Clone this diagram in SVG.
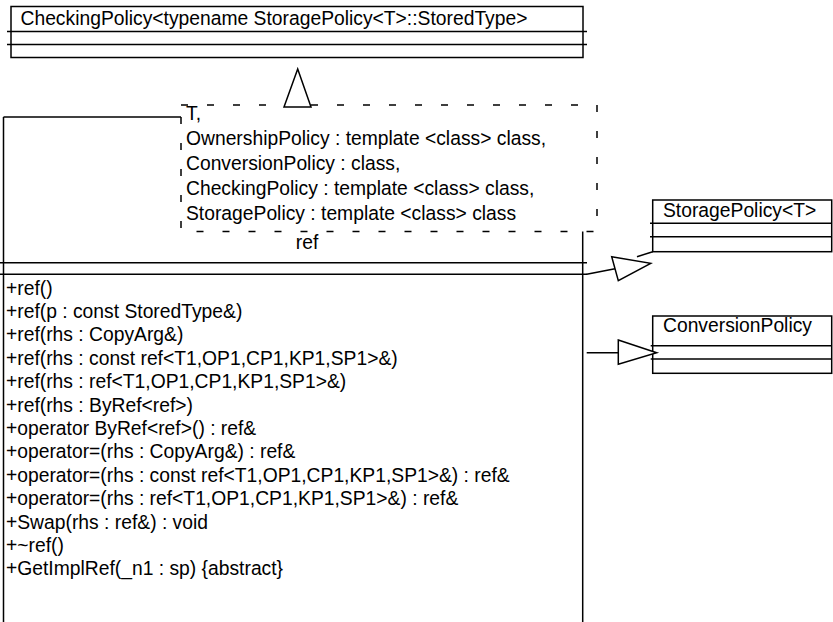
<svg xmlns="http://www.w3.org/2000/svg" width="833" height="622" viewBox="0 0 833 622">
<style>
text{font-family:"Liberation Sans",Arial,sans-serif;font-size:19.3px;fill:#000}
.ln{stroke:#000;stroke-width:1.5;fill:none}
.box{stroke:#000;stroke-width:1.5;fill:#fff}
.dash{stroke:#000;stroke-width:1.5;fill:#fff;stroke-dasharray:7 19}
.head{stroke:#000;stroke-width:1.5;fill:#fff;stroke-linejoin:miter}
</style>
<rect width="833" height="622" fill="#fff"/>
<g id="CheckingPolicy">
<rect class="box" x="11" y="6.5" width="572" height="51"/>
<line class="ln" x1="7" y1="31.5" x2="587" y2="31.5"/>
<line class="ln" x1="7" y1="44.5" x2="587" y2="44.5"/>
<text x="20.5" y="24.5">CheckingPolicy&lt;typename StoragePolicy&lt;T&gt;::StoredType&gt;</text>
</g>
<g id="ref">
<line class="ln" x1="3.5" y1="117" x2="182" y2="117"/>
<line class="ln" x1="3.5" y1="117" x2="3.5" y2="623"/>
<line class="ln" x1="582.7" y1="225" x2="582.7" y2="623"/>
<line class="ln" x1="0" y1="262.7" x2="587" y2="262.7"/>
<line class="ln" x1="0" y1="274.3" x2="587" y2="274.3"/>
<text x="307" y="249" text-anchor="middle">ref</text>
<text x="6" y="294.5">+ref()</text>
<text x="6" y="317.9">+ref(p : const StoredType&amp;)</text>
<text x="6" y="341.3">+ref(rhs : CopyArg&amp;)</text>
<text x="6" y="364.7">+ref(rhs : const ref&lt;T1,OP1,CP1,KP1,SP1&gt;&amp;)</text>
<text x="6" y="388.1">+ref(rhs : ref&lt;T1,OP1,CP1,KP1,SP1&gt;&amp;)</text>
<text x="6" y="411.5">+ref(rhs : ByRef&lt;ref&gt;)</text>
<text x="6" y="434.9">+operator ByRef&lt;ref&gt;() : ref&amp;</text>
<text x="6" y="458.3">+operator=(rhs : CopyArg&amp;) : ref&amp;</text>
<text x="6" y="481.7">+operator=(rhs : const ref&lt;T1,OP1,CP1,KP1,SP1&gt;&amp;) : ref&amp;</text>
<text x="6" y="505.1">+operator=(rhs : ref&lt;T1,OP1,CP1,KP1,SP1&gt;&amp;) : ref&amp;</text>
<text x="6" y="528.5">+Swap(rhs : ref&amp;) : void</text>
<text x="6" y="551.9">+~ref()</text>
<text x="6" y="575.3">+GetImplRef(_n1 : sp) {abstract}</text>
</g>
<g id="ref-template">
<rect class="dash" x="181" y="105" width="416" height="126.5"/>
<text x="186" y="120">T,</text>
<text x="186" y="145">OwnershipPolicy : template &lt;class&gt; class,</text>
<text x="186" y="170">ConversionPolicy : class,</text>
<text x="186" y="195">CheckingPolicy : template &lt;class&gt; class,</text>
<text x="186" y="220">StoragePolicy : template &lt;class&gt; class</text>
</g>
<g id="StoragePolicy">
<rect class="box" x="652.7" y="200" width="179" height="51.7"/>
<line class="ln" x1="650" y1="223.3" x2="832" y2="223.3"/>
<line class="ln" x1="650" y1="236.7" x2="832" y2="236.7"/>
<text x="663" y="216.7">StoragePolicy&lt;T&gt;</text>
</g>
<g id="ConversionPolicy">
<rect class="box" x="652.7" y="316" width="179" height="57.3"/>
<line class="ln" x1="650.7" y1="345.7" x2="832" y2="345.7"/>
<line class="ln" x1="650.7" y1="359" x2="832" y2="359"/>
<text x="663" y="331.7">ConversionPolicy</text>
</g>
<g id="connectors">
<polygon class="head" points="297.7,69 284,107 311,107"/>
<line class="ln" x1="586.7" y1="274.3" x2="615" y2="268.7"/>
<polygon class="head" points="611.7,256.7 650.7,263.3 618.3,280.7"/>
<line class="ln" x1="637" y1="256.7" x2="652.7" y2="251.7"/>
<line class="ln" x1="586.7" y1="352.7" x2="618.3" y2="352.7"/>
<polygon class="head" points="618.3,340 656.7,352.7 618.3,364.3"/>
</g>
</svg>
